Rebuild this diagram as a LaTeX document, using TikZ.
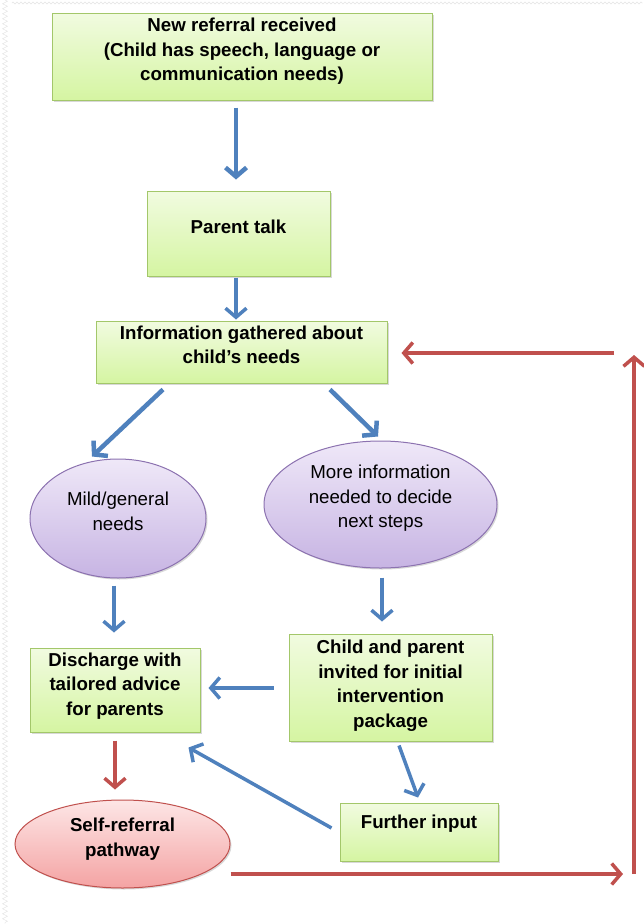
\documentclass[tikz,border=0pt]{standalone}
\usepackage{fontspec}
\setmainfont{Liberation Sans}
\usepackage{tikz}
\usetikzlibrary{arrows.meta, shapes.geometric, shadows, decorations.pathmorphing}

\definecolor{flowblue}{HTML}{4F81BD}
\definecolor{flowred}{HTML}{C0504D}
\definecolor{boxline}{HTML}{A3C76A}
\definecolor{boxtop}{HTML}{F1FBE0}
\definecolor{boxbot}{HTML}{D5F5A2}
\definecolor{ovalline}{HTML}{8C72B0}
\definecolor{ovaltop}{HTML}{EFE8F8}
\definecolor{ovalbot}{HTML}{C7B4E3}
\definecolor{pinktop}{HTML}{FDE6E6}
\definecolor{pinkbot}{HTML}{F4A3A3}

\tikzset{
  plaintxt/.style={align=center, font=\fontsize{18.7pt}{24.5pt}\selectfont},
  boldtxt/.style={align=center, font=\fontsize{18.7pt}{24.5pt}\selectfont\bfseries},
  softshadow/.style={drop shadow={opacity=0.3, shadow xshift=1.5pt, shadow yshift=-1.5pt}},
  greenbox/.style={rectangle, draw=boxline, line width=1pt, inner sep=0pt,
    top color=boxtop, bottom color=boxbot, softshadow},
  purpleoval/.style={ellipse, draw=ovalline, line width=1pt, inner sep=0pt,
    top color=ovaltop, bottom color=ovalbot, softshadow},
  pinkoval/.style={ellipse, draw=flowred, line width=1pt, inner sep=0pt,
    top color=pinktop, bottom color=pinkbot, softshadow},
  flowarrow/.style={draw=flowblue, line width=3.5pt, -{Straight Barb[length=9pt, width=21pt]}},
  backarrow/.style={draw=flowred, line width=3.5pt, -{Straight Barb[length=9pt, width=21pt]}},
}

\begin{document}
\begin{tikzpicture}[x=1pt, y=-1pt]
  % --- Page and its faint left/top border ---
  \path[use as bounding box, fill=white] (0,0) rectangle (643,924);
  \draw[black!12, decorate, decoration={zigzag, segment length=5pt, amplitude=2.5pt}] (5,0) -- (5,924);
  \draw[black!10, decorate, decoration={zigzag, segment length=4pt, amplitude=1pt}] (12,3) -- (643,3);

  % --- Top of the pathway ---
  \node[greenbox, minimum width=380pt, minimum height=87pt,
        label={[boldtxt, yshift=5pt]center:{New referral received\\(Child has speech, language or\\communication needs)}}]
        (referral) at (242,56.5) {};
  \node[greenbox, minimum width=183pt, minimum height=85pt,
        label={[boldtxt, yshift=6.5pt]center:{Parent talk}}]
        (talk) at (238.5,233.5) {};
  \node[greenbox, minimum width=291pt, minimum height=62pt,
        label={[boldtxt, yshift=7pt]center:{Information gathered about\\child's needs}}]
        (info) at (241.5,352) {};

  % --- Two branches ---
  \node[purpleoval, minimum width=176pt, minimum height=119pt,
        label={[plaintxt, yshift=7pt]center:{Mild/general\\needs}}]
        (mild) at (118,518.5) {};
  \node[purpleoval, minimum width=233pt, minimum height=127pt,
        label={[plaintxt, yshift=6pt]center:{More information\\needed to decide\\next steps}}]
        (more) at (380.5,504.5) {};

  % --- Outcomes ---
  \node[greenbox, minimum width=170pt, minimum height=84pt,
        label={[boldtxt, yshift=4pt]center:{Discharge with\\tailored advice\\for parents}}]
        (discharge) at (115,690) {};
  \node[greenbox, minimum width=203pt, minimum height=107pt,
        label={[boldtxt, yshift=2pt]center:{Child and parent\\invited for initial\\intervention\\package}}]
        (invite) at (390.5,687.5) {};
  \node[greenbox, minimum width=158pt, minimum height=58pt,
        label={[boldtxt, yshift=8pt]center:{Further input}}]
        (further) at (419,832) {};
  \node[pinkoval, minimum width=215pt, minimum height=88pt,
        label={[boldtxt, yshift=5pt]center:{Self-referral\\pathway}}]
        (self) at (122.5,844) {};

  % --- Blue arrows ---
  \draw[flowarrow, line width=4.5pt] ([shift={(-6,7)}]referral.south) -- ([shift={(-2.5,-11)}]talk.north);
  \draw[flowarrow] ([shift={(-2.5,1)}]talk.south) -- ([shift={(-5.5,-1)}]info.north);
  \draw[flowarrow, line width=4.5pt] ([shift={(-78.5,6)}]info.south) -- ([shift={(-26,-2)}]mild.north);
  \draw[flowarrow, line width=4.5pt] ([shift={(88.5,6)}]info.south) -- ([shift={(-2.5,-4)}]more.north);
  \draw[flowarrow] ([shift={(-4,7)}]mild.south) -- ([shift={(-1,-15)}]discharge.north);
  \draw[flowarrow] ([shift={(1.5,9)}]more.south) -- ([shift={(-8.5,-12)}]invite.north);
  \draw[flowarrow] ([shift={(-15,0.5)}]invite.west) -- ([shift={(8,-2)}]discharge.east);
  \draw[flowarrow] ([shift={(8.5,4)}]invite.south) -- ([shift={(-1,-5)}]further.north);
  \draw[flowarrow] ([shift={(-8,-4)}]further.west) -- ([shift={(-12,15)}]discharge.south east);

  % --- Red arrows: self-referral loops back to the start ---
  \coordinate (loopcorner) at (634,874);
  \coordinate (looptop) at (634,353);
  \draw[backarrow] ([shift={(0,8)}]discharge.south) -- ([shift={(-7.5,-10)}]self.north);
  \draw[backarrow] (self.east |- loopcorner) -- ([xshift=-11pt]loopcorner);
  \draw[backarrow] (loopcorner) -- ([yshift=-2pt]looptop);
  \draw[backarrow, shorten >=14pt] ([xshift=-20pt]looptop) -- (info.east |- looptop);
\end{tikzpicture}
\end{document}
